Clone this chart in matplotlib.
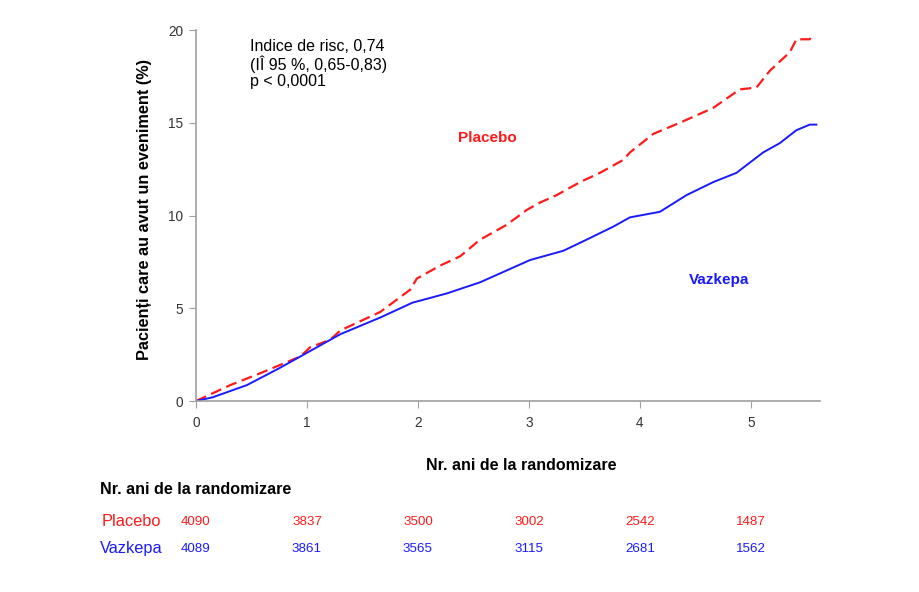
import numpy as np
import matplotlib.pyplot as plt
import matplotlib.transforms as mtransforms

plt.rcParams['font.family'] = ['Liberation Sans', 'DejaVu Sans']

# cumulative incidence (%)
placebo_t = [0.0, 0.31, 0.58, 0.94, 1.03, 1.21, 1.30, 1.66, 1.93, 1.99, 2.20, 2.38, 2.56,
             2.80, 2.98, 3.10, 3.25, 3.46, 3.64, 3.85, 3.91, 4.12, 4.36, 4.66, 4.90, 5.05,
             5.17, 5.35, 5.41, 5.53, 5.56]
placebo_y = [0.0, 0.86, 1.5, 2.4, 2.9, 3.3, 3.8, 4.8, 6.0, 6.6, 7.3, 7.8, 8.7,
             9.5, 10.3, 10.7, 11.1, 11.8, 12.3, 13.0, 13.4, 14.4, 15.0, 15.8, 16.8, 16.9,
             17.8, 18.8, 19.5, 19.5, 19.8]
vaz_t = [0.0, 0.15, 0.46, 0.76, 1.0, 1.30, 1.66, 1.95, 2.26, 2.56, 2.86, 3.01, 3.31,
         3.52, 3.76, 3.91, 4.18, 4.42, 4.66, 4.87, 5.11, 5.26, 5.41, 5.53, 5.59]
vaz_y = [0.0, 0.2, 0.86, 1.8, 2.6, 3.6, 4.5, 5.3, 5.8, 6.4, 7.2, 7.6, 8.1,
         8.7, 9.4, 9.9, 10.2, 11.1, 11.8, 12.3, 13.4, 13.9, 14.6, 14.9, 14.9]

years = [0, 1, 2, 3, 4, 5]
risk_placebo = [4090, 3837, 3500, 3002, 2542, 1487]
risk_vaz = [4089, 3861, 3565, 3115, 2681, 1562]

red = '#ff1a1a'
blue = '#1a1aff'

fig = plt.figure(figsize=(9.2, 5.92), dpi=100)
ax = fig.add_axes([0.213, 0.3226, 0.678, 0.6267])

ax.plot(placebo_t, placebo_y, color=red, lw=1.6, linestyle=(0, (5, 2.5)))
ax.plot(vaz_t, vaz_y, color=blue, lw=1.4)

ax.set_xlim(0, 5.62)
ax.set_ylim(0, 20)
ax.set_xticks(years)
ax.set_yticks([0, 5, 10, 15, 20])
for s in ['top', 'right']:
    ax.spines[s].set_visible(False)
for s in ['left', 'bottom']:
    ax.spines[s].set_color('#a0a0a0')
    ax.spines[s].set_linewidth(1.2)
ax.tick_params(colors='#a0a0a0', labelcolor='#333333', labelsize=9.8, length=5, direction='out')
ax.tick_params(axis='x', pad=6)
ax.tick_params(axis='y', pad=4)

ax.set_ylabel('Pacienți care au avut un eveniment (%)', fontsize=11.7, fontweight='bold')
ax.yaxis.set_label_coords(-0.071, 0.517)

ax.text(0.49, 18.17, 'Indice de risc, 0,74\n(IÎ 95 %, 0,65-0,83)\np < 0,0001', fontsize=11.5,
        va='center', ha='left', linespacing=1.1)
ax.text(2.63, 14.2, 'Placebo', color=red, fontsize=11, fontweight='bold', ha='center', va='center')
ax.text(4.71, 6.5, 'Vazkepa', color=blue, fontsize=11, fontweight='bold', ha='center', va='center')

fig.text(0.567, 1 - 465 / 592, 'Nr. ani de la randomizare', fontsize=11.5, fontweight='bold',
         ha='center', va='center')
fig.text(0.109, 1 - 489 / 592, 'Nr. ani de la randomizare', fontsize=11.6, fontweight='bold',
         ha='left', va='center')
fig.text(0.110, 1 - 522 / 592, 'Placebo', fontsize=11.8, color=red, ha='left', va='center')
fig.text(0.109, 1 - 549 / 592, 'Vazkepa', fontsize=11.8, color=blue, ha='left', va='center')

trans = mtransforms.blended_transform_factory(ax.transData, fig.transFigure)
for x, a, b in zip(years, risk_placebo, risk_vaz):
    ax.text(x, 1 - 522 / 592, str(a), transform=trans, color=red, fontsize=9.6,
            ha='center', va='center', clip_on=False)
    ax.text(x, 1 - 549 / 592, str(b), transform=trans, color=blue, fontsize=9.6,
            ha='center', va='center', clip_on=False)

fig.savefig('out.png', dpi=100)
